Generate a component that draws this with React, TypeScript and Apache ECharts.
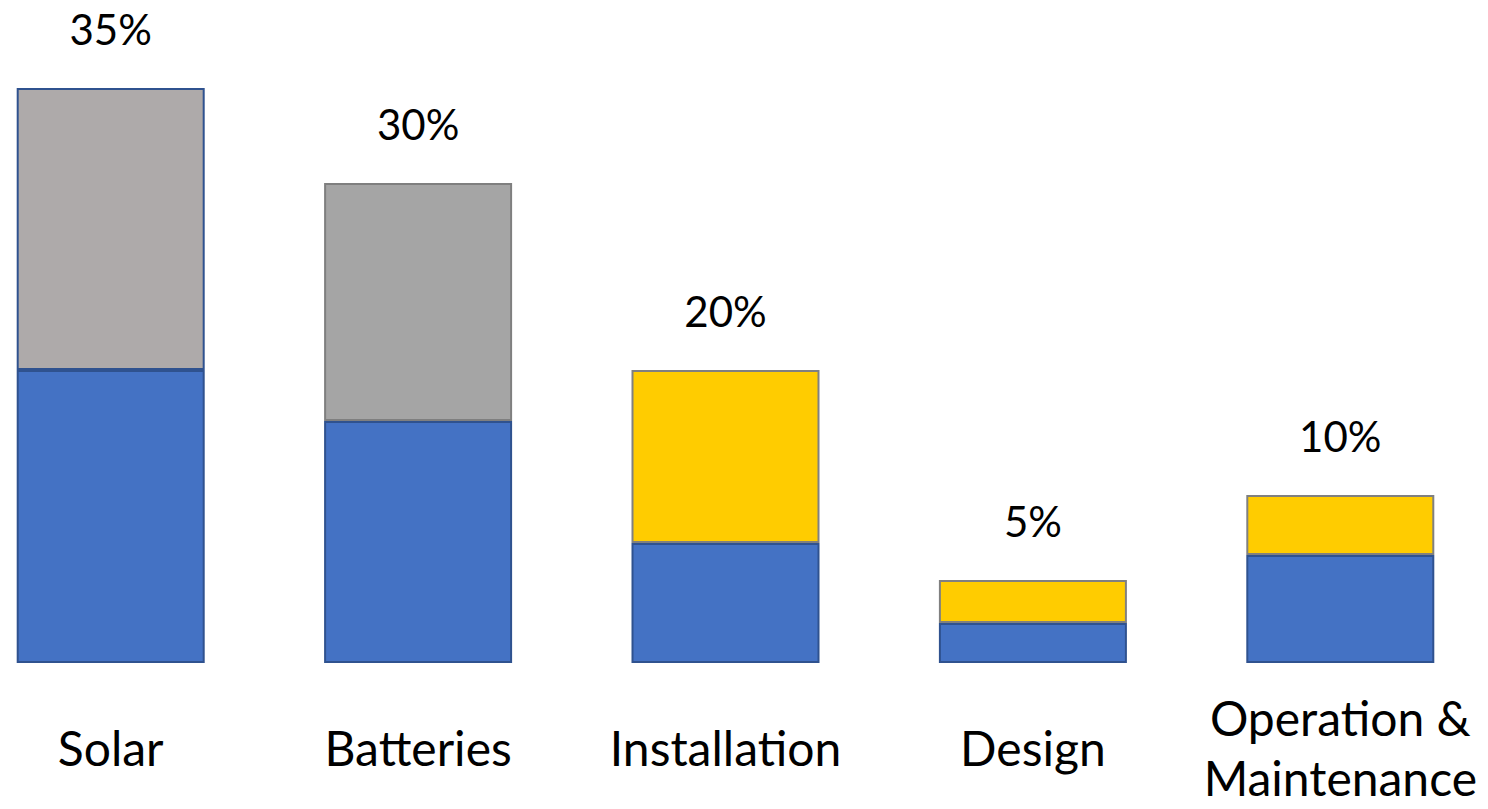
import React, { useEffect, useRef } from "react";
import * as echarts from "echarts";

const categories = ["Solar", "Batteries", "Installation", "Design", "Operation &\nMaintenance"];
const baseValues = [17.83, 14.73, 7.3, 2.43, 6.57];
const topValues = [17.17, 14.49, 10.53, 2.62, 3.65];
const pctLabels = ["35%", "30%", "20%", "5%", "10%"];
const topColors = ["#AEAAAA", "#A5A5A5", "#FFCC00", "#FFCC00", "#FFCC00"];
const topBorders = ["#2F528F", "#7F7F7F", "#808080", "#808080", "#808080"];

export default function App() {
  const ref = useRef<HTMLDivElement>(null);
  useEffect(() => {
    if (!ref.current) return;
    const chart = echarts.init(ref.current, undefined, { renderer: "svg" });
    const font = "Lato, 'Open Sans', sans-serif";
    chart.setOption({
      animation: false,
      grid: { left: 0, right: 0, top: 88, bottom: 146 },
      xAxis: {
        type: "category",
        data: categories,
        axisLine: { show: false },
        axisTick: { show: false },
        axisLabel: {
          interval: 0,
          color: "#000",
          fontFamily: font,
          fontSize: 48,
          lineHeight: 60,
          verticalAlign: "middle",
          margin: 84,
        },
      },
      yAxis: { type: "value", min: 0, max: 35, show: false, splitLine: { show: false } },
      series: [
        {
          type: "bar",
          stack: "s",
          barWidth: 188,
          data: baseValues,
          itemStyle: { color: "#4472C4", borderColor: "#2F528F", borderWidth: 2 },
        },
        {
          type: "bar",
          stack: "s",
          barWidth: 188,
          data: topValues.map((v, i) => ({
            value: v,
            itemStyle: { color: topColors[i], borderColor: topBorders[i], borderWidth: 2 },
          })),
          label: {
            show: true,
            position: "top",
            distance: 38,
            color: "#000",
            fontFamily: font,
            fontSize: 42,
            formatter: (p: any) => pctLabels[p.dataIndex],
          },
        },
      ],
    });
    return () => chart.dispose();
  }, []);
  return (
    <div style={{ position: "fixed", left: 0, top: 0, width: 1488, height: 809, overflow: "hidden", background: "#fff" }}>
      <div ref={ref} style={{ position: "absolute", left: -43, top: 0, width: 1537, height: 809 }} />
    </div>
  );
}
